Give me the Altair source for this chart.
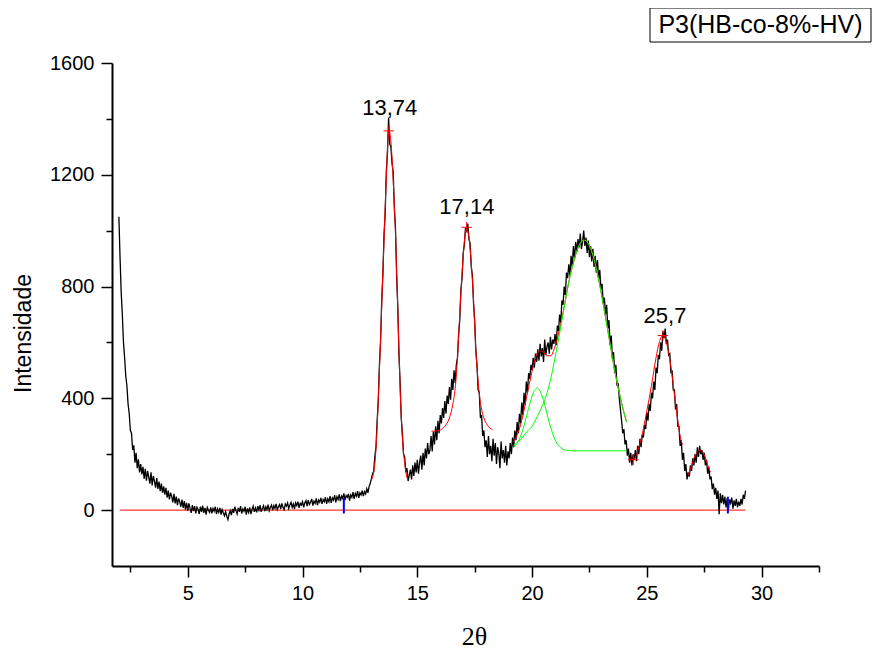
import altair as alt
import pandas as pd

# ---------------- data ----------------
legend_label = "P3(HB-co-8%-HV)"

# measured intensity, sampled every 0.05 deg starting at 2.00 deg (2theta)
scan_start = 2.0
scan_step = 0.05
intensity = [
    # 2.00 - 2.95
    1050, 905, 780, 700, 600, 545, 480, 445, 380, 345, 285, 275, 215, 232, 170, 205, 150, 182, 135, 165,
    # 3.00 - 3.95
    128, 155, 112, 148, 105, 140, 118, 95, 135, 88, 122, 104, 80, 115, 76, 102, 68, 95, 62, 85,
    # 4.00 - 4.95
    55, 80, 45, 70, 38, 62, 50, 28, 58, 24, 48, 18, 42, 30, 12, 38, 8, 32, 2, 26,
    # 5.00 - 5.95
    -2, 24, 6, -10, 18, -4, 14, -12, 10, 2, -14, 12, -6, 16, -10, 8, -16, 10, 0, -8,
    # 6.00 - 6.95
    10, -12, 6, -4, 12, -14, 4, -8, 8, -16, 2, -10, -20, -6, -22, -34, -14, -2, -18, 4,
    # 7.00 - 7.95
    -10, 12, -2, -14, 8, -6, 14, -12, 4, -4, 12, -16, 6, -8, 10, -14, 2, 14, -6, 8,
    # 8.00 - 8.95
    -8, 14, 0, 18, -6, 6, 16, -4, 12, 2, 20, -2, 10, 18, 0, 16, 6, 22, 2, 12,
    # 9.00 - 9.95
    20, 4, 24, 10, 2, 22, 14, 26, 6, 18, 28, 10, 22, 4, 26, 16, 30, 8, 24, 18,
    # 10.00 - 10.95
    30, 10, 26, 34, 14, 36, 20, 28, 40, 16, 32, 24, 42, 18, 36, 28, 44, 22, 38, 30,
    # 11.00 - 11.95
    46, 22, 40, 30, 50, 26, 44, 36, 54, 28, 48, 38, 56, 32, 50, 42, 60, 36, 52, 46,
    # 12.00 - 12.95
    58, 34, 54, 46, 64, 40, 60, 50, 68, 44, 62, 54, 70, 50, 66, 58, 76, 62, 84, 96,
    # 13.00 - 13.95
    112, 130, 138, 192, 225, 318, 392, 520, 605, 750, 840, 985, 1060, 1210, 1280, 1405, 1310, 1300, 1240, 1210,
    # 14.00 - 14.95
    1080, 1010, 840, 730, 560, 460, 330, 275, 200, 190, 135, 150, 104, 125, 145, 110, 160, 122, 170, 135,
    # 15.00 - 15.95
    180, 130, 170, 195, 145, 205, 160, 220, 185, 240, 200, 215, 265, 210, 280, 235, 300, 250, 320, 275,
    # 16.00 - 16.95
    340, 310, 365, 330, 390, 345, 410, 380, 440, 395, 470, 430, 500, 455, 520, 545, 630, 680, 790, 830,
    # 17.00 - 17.95
    920, 950, 1010, 995, 1025, 970, 955, 870, 840, 740, 680, 570, 520, 430, 420, 330, 340, 265, 285, 225,
    # 18.00 - 18.95
    250, 190, 265, 200, 230, 175, 255, 195, 240, 165, 225, 205, 150, 245, 185, 215, 170, 230, 160, 210,
    # 19.00 - 19.95
    185, 240, 200, 260, 225, 285, 250, 315, 275, 345, 310, 385, 340, 420, 375, 460, 420, 490, 470, 520,
    # 20.00 - 20.95
    500, 545, 510, 560, 530, 575, 535, 595, 550, 580, 530, 610, 555, 585, 600, 560, 620, 575, 610, 595,
    # 21.00 - 21.95
    630, 590, 660, 640, 700, 670, 750, 735, 800, 770, 850, 830, 880, 840, 910, 870, 945, 900, 960, 925,
    # 22.00 - 22.95
    970, 940, 990, 935, 960, 1000, 945, 975, 920, 965, 905, 945, 890, 935, 870, 910, 850, 895, 825, 860,
    # 23.00 - 23.95
    790, 810, 740, 760, 700, 735, 650, 680, 590, 625, 540, 565, 490, 520, 445, 455, 400, 360, 320, 275,
    # 24.00 - 24.95
    290, 235, 250, 195, 220, 170, 205, 160, 200, 180, 215, 175, 230, 200, 255, 225, 270, 260, 305, 290,
    # 25.00 - 25.95
    350, 320, 380, 355, 420, 400, 460, 430, 510, 490, 555, 540, 600, 570, 640, 615, 650, 595, 610, 555,
    # 26.00 - 26.95
    560, 490, 500, 430, 430, 360, 380, 300, 300, 230, 250, 180, 205, 140, 165, 110, 135, 120, 160, 140,
    # 27.00 - 27.95
    185, 160, 200, 170, 225, 190, 230, 200, 215, 180, 205, 160, 180, 130, 155, 110, 120, 75, 95, 55,
    # 28.00 - 28.95
    80, 40, 70, -15, 60, 25, 55, 20, 48, 10, 42, 0, 38, 25, 45, 5, 35, 15, 40, 10,
    # 29.00 - 29.30
    30, 15, 40, 20, 55, 40, 70,
]
two_theta = [round(scan_start + scan_step * i, 2) for i in range(len(intensity))]

# red fitted peaks
peak1_x = [13.00, 13.05, 13.10, 13.15, 13.20, 13.25, 13.30, 13.35, 13.40, 13.45, 13.50, 13.55,
           13.60, 13.65, 13.70, 13.76, 13.80, 13.85, 13.90, 13.95, 14.00, 14.05, 14.10, 14.15,
           14.20, 14.25, 14.30, 14.35, 14.40, 14.45, 14.50, 14.55]
peak1_y = [107, 118, 135, 165, 220, 300, 393, 500, 610, 730, 850, 965,
           1080, 1190, 1290, 1357, 1350, 1320, 1260, 1180, 1090, 990, 855, 720,
           575, 440, 340, 260, 205, 170, 138, 115]

peak2_x = [15.62, 15.80, 16.00, 16.20, 16.40, 16.55, 16.65, 16.75, 16.85, 16.95, 17.05,
           17.14, 17.25, 17.35, 17.45, 17.55, 17.65, 17.75, 17.90, 18.05, 18.28]
peak2_y = [282, 283, 287, 300, 330, 380, 435, 545, 700, 845, 960,
           1010, 975, 885, 750, 575, 460, 385, 330, 305, 287]

envelope_x = [19.18, 19.40, 19.60, 19.80, 20.00, 20.10, 20.22, 20.35, 20.50, 20.62, 20.80,
              21.00, 21.20, 21.40, 21.60, 21.80, 22.00, 22.15, 22.27, 22.40, 22.60, 22.80,
              23.00, 23.20, 23.40, 23.60, 23.80, 24.00, 24.12]
envelope_y = [244, 279, 338, 420, 496, 531, 560, 569, 565, 553, 552,
              585, 648, 729, 816, 885, 938, 961, 966, 960, 925, 865,
              783, 690, 595, 500, 420, 350, 315]

peak3_x = [24.20, 24.41, 24.60, 24.80, 25.00, 25.20, 25.40, 25.55, 25.70, 25.85, 26.00,
           26.15, 26.30, 26.45, 26.55]
peak3_y = [190, 180, 212, 272, 355, 445, 545, 603, 625, 600, 540, 450, 350, 265, 235]

peak4_x = [26.80, 26.95, 27.10, 27.25, 27.35, 27.50, 27.60, 27.70, 27.78]
peak4_y = [125, 160, 195, 212, 215, 198, 175, 150, 135]

# green deconvoluted components
green1_x = [19.18, 19.40, 19.60, 19.80, 20.00, 20.10, 20.22, 20.35, 20.50, 20.62, 20.80,
            21.00, 21.20, 21.40, 21.60, 21.80, 24.12]
green1_y = [224, 246, 288, 349, 408, 428, 437, 426, 392, 355, 299,
            252, 227, 216, 213, 212, 212]

green2_x = [19.18, 19.40, 19.60, 19.80, 20.00, 20.20, 20.40, 20.60, 20.80, 21.00, 21.20,
            21.40, 21.60, 21.80, 22.00, 22.15, 22.27, 22.40, 22.60, 22.80, 23.00, 23.20,
            23.40, 23.60, 23.80, 24.00, 24.12]
green2_y = [232, 245, 262, 283, 300, 330, 365, 405, 465, 545, 633,
            725, 815, 885, 938, 961, 966, 960, 925, 865, 783, 690,
            595, 500, 420, 350, 315]

# baseline, blue marks, peak markers and labels
base_x = [2.04, 29.30]
base_y = [0, 0]
blue_x = [11.80, 28.53]
blue_lo = [-12, -12]
blue_hi = [43, 48]
marker_x = [13.76, 17.15, 24.41, 25.70]
marker_y = [1357, 1012, 180, 625]
label_text = ["13,74", "17,14", "25,7"]
label_x = [13.80, 17.16, 25.79]
label_y = [1438, 1084, 695]

x_tick_values = [2.5, 5, 7.5, 10, 12.5, 15, 17.5, 20, 22.5, 25, 27.5, 30, 32.5]
y_tick_values = [0, 200, 400, 600, 800, 1000, 1200, 1400, 1600]

# ---------------- chart ----------------
SANS = "Liberation Sans"

x_scale = alt.Scale(domain=[1.7, 32.5], nice=False, zero=False)
y_scale = alt.Scale(domain=[-200, 1600], nice=False, zero=False)

x_axis = alt.Axis(
    values=x_tick_values, format="d",
    title="2θ", titleFont="Liberation Serif", titleFontSize=26, titleFontWeight="normal",
    titleColor="black", titleX=362, titleY=70, titleBaseline="middle", titleAlign="center",
    labelFont=SANS, labelFontSize=20, labelColor="black",
    labelExpr="datum.value % 5 === 0 ? datum.label : ''",
    labelPadding=6, labelFlush=False, labelOverlap=False,
    tickSize={"condition": {"test": "datum.value % 5 === 0", "value": 11}, "value": 6},
    tickColor="black", tickWidth=1.5, domainColor="black", domainWidth=2, grid=False,
)
y_axis = alt.Axis(
    values=y_tick_values, format="d",
    title="Intensidade", titleFont=SANS, titleFontSize=23, titleFontWeight="normal",
    titleColor="black", titleAngle=270, titleX=-89, titleY=270,
    titleBaseline="middle", titleAlign="center",
    labelFont=SANS, labelFontSize=20, labelColor="black",
    labelExpr="datum.value % 400 === 0 ? datum.label : ''",
    labelPadding=7, labelFlush=False, labelOverlap=False,
    tickSize={"condition": {"test": "datum.value % 400 === 0", "value": 11}, "value": 6},
    tickColor="black", tickWidth=1.5, domainColor="black", domainWidth=2, grid=False,
)


def X(field="x"):
    return alt.X(f"{field}:Q", scale=x_scale, axis=x_axis)


def Y(field="y"):
    return alt.Y(f"{field}:Q", scale=y_scale, axis=y_axis)


def line_layer(xs, ys, color, width, interp="linear"):
    df = pd.DataFrame({"x": xs, "y": ys})
    return alt.Chart(df).mark_line(color=color, strokeWidth=width, interpolate=interp).encode(
        x=X(), y=Y()
    )


scan = line_layer(two_theta, intensity, "black", 1.3)

baseline = line_layer(base_x, base_y, "#ff0000", 1)
red_fits = [
    line_layer(peak1_x, peak1_y, "#ff0000", 1, "monotone"),
    line_layer(peak2_x, peak2_y, "#ff0000", 1, "monotone"),
    line_layer(envelope_x, envelope_y, "#ff0000", 1, "monotone"),
    line_layer(peak3_x, peak3_y, "#ff0000", 1, "monotone"),
    line_layer(peak4_x, peak4_y, "#ff0000", 1, "monotone"),
]
green_fits = [
    line_layer(green1_x, green1_y, "#00ff00", 1, "monotone"),
    line_layer(green2_x, green2_y, "#00ff00", 1, "monotone"),
]

blue_df = pd.DataFrame({"x": blue_x, "lo": blue_lo, "hi": blue_hi})
blue = alt.Chart(blue_df).mark_rule(color="#0000ff", strokeWidth=2).encode(
    x=X(), y=Y("lo"), y2="hi:Q"
)

marker_df = pd.DataFrame({"x": marker_x, "y": marker_y})
markers = alt.Chart(marker_df).mark_point(
    shape="M-1,0L1,0M0,-1L0,1", size=110, filled=False, color="#ff0000",
    strokeWidth=1, opacity=1,
).encode(x=X(), y=Y())

label_df = pd.DataFrame({"x": label_x, "y": label_y, "t": label_text})
labels = alt.Chart(label_df).mark_text(
    font=SANS, fontSize=22, color="black", align="center", baseline="middle"
).encode(x=X(), y=Y(), text="t:N")

# sample-name box (Origin-style legend) above the top-right corner of the plot
legend_df = pd.DataFrame({"t": [legend_label]})
legend_box = alt.Chart(legend_df).mark_rect(
    fill="white", stroke="black", strokeWidth=1
).encode(x=alt.value(538), x2=alt.value(759), y=alt.value(-55), y2=alt.value(-21))
legend_text = alt.Chart(legend_df).mark_text(
    font=SANS, fontSize=25, color="black", align="center", baseline="middle"
).encode(x=alt.value(648.5), y=alt.value(-38), text="t:N")

chart = alt.layer(
    baseline, scan, *red_fits, *green_fits, blue, markers, labels, legend_box, legend_text
).properties(
    width=707, height=503,
    autosize=alt.AutoSizeParams(type="none"),
    padding={"left": 104, "top": 55, "right": 53, "bottom": 84},
    background="white",
).configure_view(stroke=None)

chart.save("out.html", embed_options={"renderer": "svg", "actions": False})
